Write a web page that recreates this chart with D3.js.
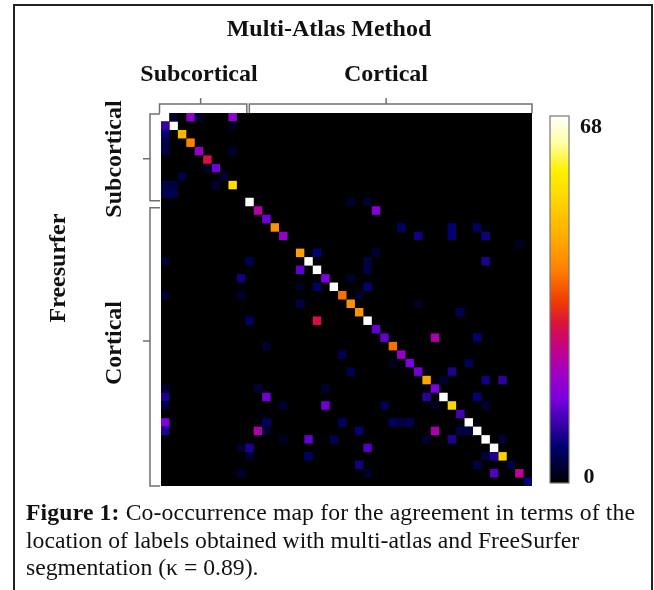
<!DOCTYPE html>
<html>
<head>
<meta charset="utf-8">
<script src="https://cdn.jsdelivr.net/npm/d3@7"></script>
<style>
  html, body { margin: 0; padding: 0; background: #fff; }
  svg { display: block; }
</style>
</head>
<body>
<div id="canvas"></div>
<script>
// Data
const labelCount = 44;
const groupNames = ["Subcortical", "Cortical"];
const groupStart = [0, 10];
const groupEnd = [10, 44];
// the bracket ticks are not quite centred, given in label units
const colTicks = [4.7, 26.7];
const rowTicks = [5.4, 26.9];

// counts on the diagonal, label 0 to 43
const diagonal = [68, 68, 47, 40, 19, 29, 15, 3, 54, 0, 68, 23, 15, 42, 19, 0, 44, 68, 68, 16, 68, 38,
  42, 42, 68, 14, 14, 38, 19, 16, 15, 45, 16, 68, 53, 12, 68, 68, 68, 68, 52, 4, 24, 7];

// off diagonal counts, same index in the three lists
const offRow = [0, 0, 0, 0, 1, 1, 2, 3, 4, 4, 6, 7, 8, 8, 8, 9, 9, 10, 10, 11, 13, 13, 13, 14, 14, 14, 15,
  16, 16, 17, 17, 17, 17, 18, 18, 19, 19, 20, 20, 20, 21, 21, 21, 22, 22, 23, 24, 24, 26, 26, 27, 28, 29, 29,
  30, 30, 31, 31, 31, 32, 32, 32, 33, 33, 33, 33, 34, 34, 34, 34, 34, 34, 36, 36, 36, 36, 36, 36,
  37, 37, 37, 37, 37, 37, 37, 38, 38, 38, 38, 38, 38, 39, 39, 39, 40, 40, 40, 40, 41, 41, 42, 42, 42];
const offCol = [1, 3, 4, 8, 0, 8, 0, 0, 0, 8, 5, 2, 0, 1, 6, 0, 1, 22, 24, 25, 28, 34, 37, 30, 34, 38, 42,
  18, 25, 0, 10, 24, 38, 16, 24, 9, 22, 16, 18, 24, 0, 9, 23, 16, 30, 35, 10, 18, 32, 37, 12, 21, 27, 36,
  22, 34, 33, 38, 40, 0, 11, 19, 0, 12, 31, 37, 0, 14, 19, 26, 32, 38, 0, 12, 21, 27, 28, 29,
  0, 11, 12, 23, 32, 35, 36, 14, 17, 20, 31, 34, 40, 9, 10, 24, 10, 17, 38, 39, 23, 37, 9, 24, 39];
const offValue = [3, 18, 3, 18, 11, 2, 7, 4, 4, 3, 2, 4, 4, 4, 3, 5, 5, 3, 3, 17, 6, 7, 6, 8, 7, 8, 2,
  7, 3, 3, 5, 4, 9, 14, 4, 8, 3, 2, 6, 7, 3, 3, 3, 4, 2, 5, 6, 29, 22, 7, 3, 5, 2, 5,
  5, 9, 3, 8, 10, 3, 3, 3, 9, 15, 10, 7, 4, 3, 15, 5, 2, 3, 16, 6, 6, 6, 4, 5,
  9, 22, 3, 7, 22, 4, 4, 2, 14, 5, 3, 9, 3, 3, 9, 13, 3, 6, 4, 9, 8, 4, 3, 3, 13];

const colorStops = [0, 0.1, 0.17, 0.23, 0.3, 0.36, 0.43, 0.5, 0.58, 0.68, 0.78, 0.85, 0.93, 1];
const colorRange = ["#000000", "#000070", "#4000b0", "#7a00e0", "#a000c0", "#c00090", "#d81040",
  "#f04000", "#ff8000", "#ffb000", "#ffd800", "#fff000", "#ffffa8", "#ffffff"];

const captionLines = ["Co-occurrence map for the agreement in terms of the",
  "location of labels obtained with multi-atlas and FreeSurfer",
  "segmentation (\u03ba = 0.89)."];

// Define dimensions
const w = 654;
const h = 590;
const serif = "'Liberation Serif', serif";
const bracketColor = "#707070";

const svg = d3.select("#canvas")
  .append("svg")
  .attr("width", w)
  .attr("height", h);

// the reference is a soft scan, keep everything slightly out of focus
const page = svg.append("g").style("filter", "blur(0.4px)");

// figure frame, runs off the bottom of the crop
page.append("rect")
  .attr("x", 14)
  .attr("y", 5)
  .attr("width", 638)
  .attr("height", h + 10)
  .attr("fill", "none")
  .attr("stroke", "#222")
  .attr("stroke-width", 2);

// Create scales
const labels = d3.range(labelCount);
const x_scale = d3.scaleBand().domain(labels).range([161, 532]);
const y_scale = d3.scaleBand().domain(labels).range([113, 486]);
const x_pos = d3.scaleLinear().domain([0, labelCount]).range(x_scale.range());
const y_pos = d3.scaleLinear().domain([0, labelCount]).range(y_scale.range());
const color = d3.scaleLinear().domain(colorStops.map(d => d * 68)).range(colorRange);

// heat map
page.append("rect")
  .attr("x", x_pos(0))
  .attr("y", y_pos(0))
  .attr("width", x_pos(labelCount) - x_pos(0))
  .attr("height", y_pos(labelCount) - y_pos(0))
  .attr("fill", color(0));

const cells = diagonal.map((v, i) => ({row: i, col: i, value: v}))
  .concat(offValue.map((v, i) => ({row: offRow[i], col: offCol[i], value: v})));

page.selectAll("rect.cell")
  .data(cells)
  .join("rect")
  .attr("class", "cell")
  .attr("x", d => x_scale(d.col))
  .attr("y", d => y_scale(d.row))
  .attr("width", x_scale.bandwidth())
  .attr("height", y_scale.bandwidth())
  .attr("fill", d => color(d.value));

// brackets
const brackets = page.append("g")
  .attr("fill", "none")
  .attr("stroke", bracketColor)
  .attr("stroke-width", 1.5);

groupNames.forEach((name, i) => {
  const x0 = x_pos(groupStart[i]) + (i === 0 ? -1.5 : 4);
  const x1 = x_pos(groupEnd[i]) + (i === 0 ? 1.5 : 0);
  brackets.append("path").attr("d", `M${x0},113V104H${x1}V113M${x_pos(colTicks[i])},104V98`);

  const y0 = y_pos(groupStart[i]) + (i === 0 ? 1 : 10);
  const y1 = y_pos(groupEnd[i]) + (i === 0 ? 3 : 0);
  brackets.append("path").attr("d", `M160,${y0}H150V${y1}H160M150,${y_pos(rowTicks[i])}H143`);
});

// group labels
const boldText = (x, y, txt, size) => page.append("text")
  .attr("x", x)
  .attr("y", y)
  .attr("text-anchor", "middle")
  .style("font-family", serif)
  .style("font-weight", "bold")
  .style("font-size", size + "px")
  .style("fill", "#111")
  .text(txt);

boldText(329, 36, "Multi-Atlas Method", 24);
boldText(199, 81, groupNames[0], 24);
boldText(386, 81, groupNames[1], 24);

const sideText = (x, y, txt) => boldText(0, 0, txt, 24)
  .attr("transform", `translate(${x},${y}) rotate(-90)`);

sideText(121, 159, groupNames[0]);
sideText(121, 343, groupNames[1]);
sideText(65, 268, "Freesurfer");

// colour bar
const barScale = d3.scaleLinear().domain([0, 68]).range([483, 116]);
const barDefs = svg.append("defs").append("linearGradient")
  .attr("id", "bar")
  .attr("x1", 0).attr("x2", 0).attr("y1", 1).attr("y2", 0);
barDefs.selectAll("stop")
  .data(colorStops)
  .join("stop")
  .attr("offset", d => d)
  .attr("stop-color", (d, i) => colorRange[i]);

page.append("rect")
  .attr("x", 550)
  .attr("y", barScale(68))
  .attr("width", 19)
  .attr("height", barScale(0) - barScale(68))
  .attr("fill", "url(#bar)")
  .attr("stroke", "#777")
  .attr("stroke-width", 1.2);

boldText(591, 133, "68", 22);
boldText(589, 483, "0", 22);

// caption
const caption = page.append("g")
  .style("font-family", serif)
  .style("font-size", "23.7px")
  .style("fill", "#111");

const first = caption.append("text").attr("x", 26).attr("y", 520)
  .attr("textLength", 609);
first.append("tspan").style("font-weight", "bold").text("Figure 1: ");
first.append("tspan").text(captionLines[0]);
caption.append("text").attr("x", 26).attr("y", 548).text(captionLines[1]);
caption.append("text").attr("x", 26).attr("y", 575).text(captionLines[2]);
</script>
</body>
</html>
